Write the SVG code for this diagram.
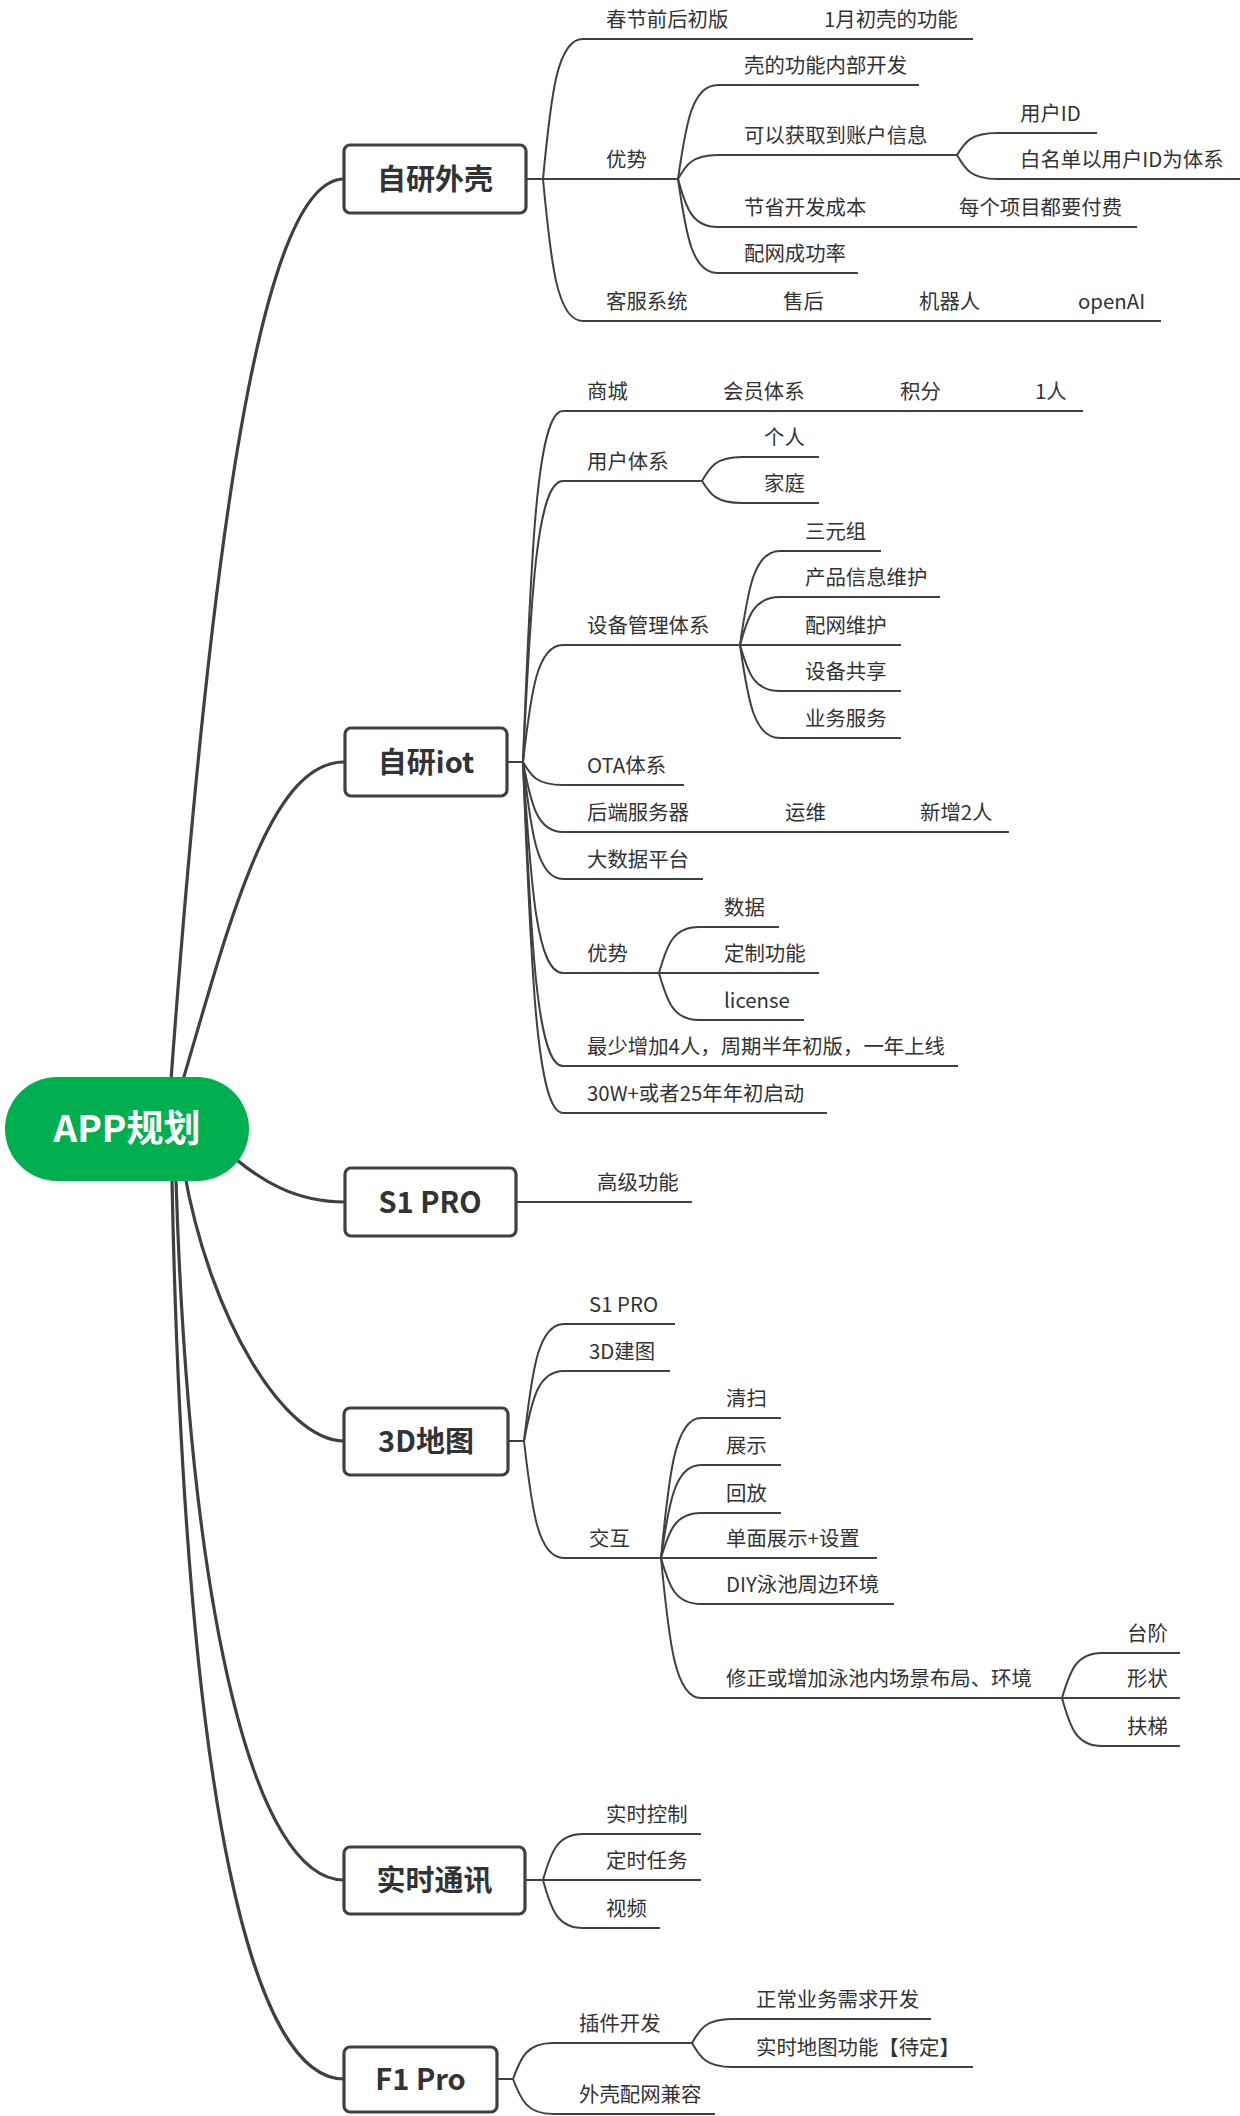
<svg xmlns="http://www.w3.org/2000/svg" width="1240" height="2116" viewBox="0 0 1240 2116">
<style>
.bg{fill:#ffffff}
.main{fill:none;stroke:#404040;stroke-width:3.2;stroke-linecap:round}
.sub{fill:none;stroke:#404040;stroke-width:2;stroke-linecap:butt}
.box{fill:#ffffff;stroke:#404040;stroke-width:3.2}
.root{fill:#00b050}
.t{font-family:"Noto Sans CJK SC","Noto Sans",sans-serif;font-size:20.4px;fill:#333333}
.bt{font-family:"Noto Sans CJK SC","Noto Sans",sans-serif;font-size:29px;font-weight:bold;fill:#333333;text-anchor:middle}
.rt{font-family:"Noto Sans CJK SC","Noto Sans",sans-serif;font-size:37px;font-weight:bold;fill:#ffffff;text-anchor:middle}
</style>
<rect class="bg" x="0" y="0" width="1240" height="2116"/>
<g id="connectors">
  <!-- root to main topics -->
  <path class="main" d="M171,1110 L171,1080 C210,550 260,179 344,179"/>
  <path class="main" d="M183,1110 L183,1080 C230,920 270,762 344,762"/>
  <path class="main" d="M215,1140 C260,1185 300,1202 345,1202"/>
  <path class="main" d="M184,1150 L184,1170 C210,1320 285,1441 344,1441"/>
  <path class="main" d="M176,1150 L176,1181 C190,1620 255,1880 344,1880"/>
  <path class="main" d="M172,1150 L172,1181 C185,1820 255,2079 344,2079"/>
  <!-- 自研外壳 -->
  <path class="sub" d="M526,179 H543"/>
  <path class="sub" d="M543,179 C551,95 557,39 583,39 H973"/>
  <path class="sub" d="M543,179 H678"/>
  <path class="sub" d="M543,179 C551,264 557,321 583,321 H1161"/>
  <path class="sub" d="M678,179 C686,123 692,85 718,85 H919"/>
  <path class="sub" d="M678,179 C686,165 692,155 718,155 H957"/>
  <path class="sub" d="M678,179 C686,208 692,227 718,227 H1137"/>
  <path class="sub" d="M678,179 C686,235 692,273 718,273 H858"/>
  <path class="sub" d="M957,155 C965,142 971,133 997,133 H1097"/>
  <path class="sub" d="M957,155 C965,169 971,179 997,179 H1240"/>
  <!-- 自研iot -->
  <path class="sub" d="M507,762 H523"/>
  <path class="sub" d="M523,762 C531,551 537,411 563,411 H1083"/>
  <path class="sub" d="M523,762 C531,593 537,481 563,481 H702"/>
  <path class="sub" d="M523,762 C531,692 537,645 563,645 H740"/>
  <path class="sub" d="M523,762 C531,776 537,785 563,785 H684"/>
  <path class="sub" d="M523,762 C531,804 537,832 563,832 H1009"/>
  <path class="sub" d="M523,762 C531,832 537,879 563,879 H703"/>
  <path class="sub" d="M523,762 C531,889 537,973 563,973 H659"/>
  <path class="sub" d="M523,762 C531,944 537,1066 563,1066 H958"/>
  <path class="sub" d="M523,762 C531,973 537,1113 563,1113 H827"/>
  <path class="sub" d="M702,481 C710,467 716,457 742,457 H819"/>
  <path class="sub" d="M702,481 C710,494 716,503 742,503 H819"/>
  <path class="sub" d="M740,645 C748,589 754,551 780,551 H881"/>
  <path class="sub" d="M740,645 C748,616 754,597 780,597 H940"/>
  <path class="sub" d="M740,645 H901"/>
  <path class="sub" d="M740,645 C748,673 754,691 780,691 H901"/>
  <path class="sub" d="M740,645 C748,701 754,738 780,738 H901"/>
  <path class="sub" d="M659,973 C667,945 673,927 699,927 H779"/>
  <path class="sub" d="M659,973 H819"/>
  <path class="sub" d="M659,973 C667,1001 673,1020 699,1020 H804"/>
  <!-- S1 PRO -->
  <path class="sub" d="M516,1202 H692"/>
  <!-- 3D地图 -->
  <path class="sub" d="M508,1441 H524"/>
  <path class="sub" d="M524,1441 C532,1371 538,1324 564,1324 H675"/>
  <path class="sub" d="M524,1441 C532,1399 538,1371 564,1371 H670"/>
  <path class="sub" d="M524,1441 C532,1511 538,1558 564,1558 H661"/>
  <path class="sub" d="M661,1558 C669,1474 675,1418 701,1418 H781"/>
  <path class="sub" d="M661,1558 C669,1502 675,1465 701,1465 H781"/>
  <path class="sub" d="M661,1558 C669,1531 675,1513 701,1513 H781"/>
  <path class="sub" d="M661,1558 H877"/>
  <path class="sub" d="M661,1558 C669,1586 675,1604 701,1604 H894"/>
  <path class="sub" d="M661,1558 C669,1642 675,1698 701,1698 H1062"/>
  <path class="sub" d="M1062,1698 C1070,1671 1076,1653 1102,1653 H1180"/>
  <path class="sub" d="M1062,1698 H1180"/>
  <path class="sub" d="M1062,1698 C1070,1727 1076,1746 1102,1746 H1180"/>
  <!-- 实时通讯 -->
  <path class="sub" d="M525,1880 H543"/>
  <path class="sub" d="M543,1880 C551,1852 557,1834 583,1834 H701"/>
  <path class="sub" d="M543,1880 H701"/>
  <path class="sub" d="M543,1880 C551,1909 557,1928 583,1928 H660"/>
  <!-- F1 Pro -->
  <path class="sub" d="M497,2079 H513"/>
  <path class="sub" d="M513,2079 C521,2057 527,2043 553,2043 H692"/>
  <path class="sub" d="M513,2079 C521,2100 527,2114 553,2114 H715"/>
  <path class="sub" d="M692,2043 C700,2029 706,2019 732,2019 H931"/>
  <path class="sub" d="M692,2043 C700,2057 706,2067 732,2067 H973"/>
</g>
<g id="root">
  <rect class="root" x="5" y="1077" width="244" height="104" rx="52" ry="52"/>
  <text class="rt" x="127" y="1142">APP规划</text>
</g>
<g id="n-shell">
  <rect class="box" x="344" y="145" width="182" height="68" rx="6"/>
  <text class="bt" x="435" y="190">自研外壳</text>
  <text class="t" x="606" y="27">春节前后初版</text>
  <text class="t" x="824" y="27">1月初壳的功能</text>
  <text class="t" x="606" y="167">优势</text>
  <text class="t" x="744" y="73">壳的功能内部开发</text>
  <text class="t" x="744" y="143">可以获取到账户信息</text>
  <text class="t" x="1020" y="121">用户ID</text>
  <text class="t" x="1020" y="167">白名单以用户ID为体系</text>
  <text class="t" x="744" y="215">节省开发成本</text>
  <text class="t" x="959" y="215">每个项目都要付费</text>
  <text class="t" x="744" y="261">配网成功率</text>
  <text class="t" x="606" y="309">客服系统</text>
  <text class="t" x="783" y="309">售后</text>
  <text class="t" x="919" y="309">机器人</text>
  <text class="t" x="1078" y="309">openAI</text>
</g>
<g id="n-iot">
  <rect class="box" x="345" y="728" width="162" height="68" rx="6"/>
  <text class="bt" x="426" y="773">自研iot</text>
  <text class="t" x="587" y="399">商城</text>
  <text class="t" x="723" y="399">会员体系</text>
  <text class="t" x="900" y="399">积分</text>
  <text class="t" x="1035" y="399">1人</text>
  <text class="t" x="587" y="469">用户体系</text>
  <text class="t" x="764" y="445">个人</text>
  <text class="t" x="764" y="491">家庭</text>
  <text class="t" x="587" y="633">设备管理体系</text>
  <text class="t" x="805" y="539">三元组</text>
  <text class="t" x="805" y="585">产品信息维护</text>
  <text class="t" x="805" y="633">配网维护</text>
  <text class="t" x="805" y="679">设备共享</text>
  <text class="t" x="805" y="726">业务服务</text>
  <text class="t" x="587" y="773">OTA体系</text>
  <text class="t" x="587" y="820">后端服务器</text>
  <text class="t" x="785" y="820">运维</text>
  <text class="t" x="920" y="820">新增2人</text>
  <text class="t" x="587" y="867">大数据平台</text>
  <text class="t" x="587" y="961">优势</text>
  <text class="t" x="724" y="915">数据</text>
  <text class="t" x="724" y="961">定制功能</text>
  <text class="t" x="724" y="1008">license</text>
  <text class="t" x="587" y="1054">最少增加4人，周期半年初版，一年上线</text>
  <text class="t" x="587" y="1101">30W+或者25年年初启动</text>
</g>
<g id="n-s1pro">
  <rect class="box" x="345" y="1168" width="171" height="68" rx="6"/>
  <text class="bt" x="430" y="1213">S1 PRO</text>
  <text class="t" x="597" y="1190">高级功能</text>
</g>
<g id="n-3dmap">
  <rect class="box" x="344" y="1408" width="164" height="67" rx="6"/>
  <text class="bt" x="426" y="1452">3D地图</text>
  <text class="t" x="589" y="1312">S1 PRO</text>
  <text class="t" x="589" y="1359">3D建图</text>
  <text class="t" x="589" y="1546">交互</text>
  <text class="t" x="726" y="1406">清扫</text>
  <text class="t" x="726" y="1453">展示</text>
  <text class="t" x="726" y="1501">回放</text>
  <text class="t" x="726" y="1546">单面展示+设置</text>
  <text class="t" x="726" y="1592">DIY泳池周边环境</text>
  <text class="t" x="726" y="1686">修正或增加泳池内场景布局、环境</text>
  <text class="t" x="1127" y="1641">台阶</text>
  <text class="t" x="1127" y="1686">形状</text>
  <text class="t" x="1127" y="1734">扶梯</text>
</g>
<g id="n-realtime">
  <rect class="box" x="344" y="1847" width="181" height="67" rx="6"/>
  <text class="bt" x="434.5" y="1891">实时通讯</text>
  <text class="t" x="606" y="1822">实时控制</text>
  <text class="t" x="606" y="1868">定时任务</text>
  <text class="t" x="606" y="1916">视频</text>
</g>
<g id="n-f1pro">
  <rect class="box" x="344" y="2047" width="153" height="65" rx="6"/>
  <text class="bt" x="420.5" y="2090">F1 Pro</text>
  <text class="t" x="579" y="2031">插件开发</text>
  <text class="t" x="756" y="2007">正常业务需求开发</text>
  <text class="t" x="756" y="2055">实时地图功能【待定】</text>
  <text class="t" x="579" y="2102">外壳配网兼容</text>
</g>
</svg>
